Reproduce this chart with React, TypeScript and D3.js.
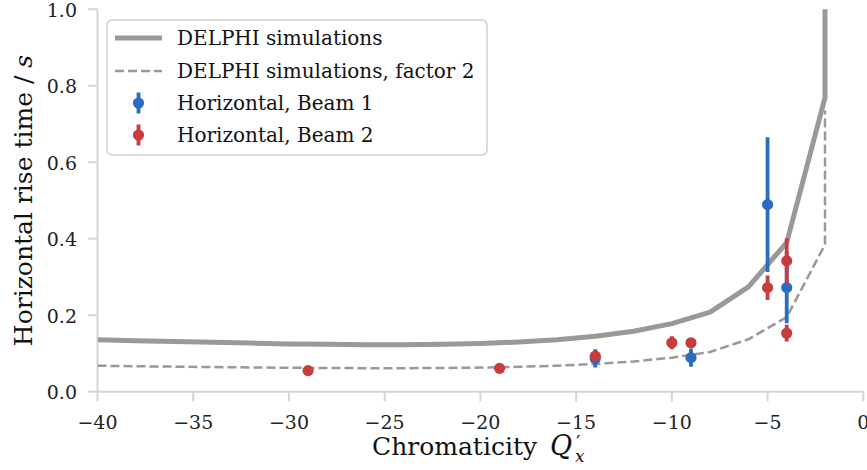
import React from "react";
import * as d3 from "d3";

const simX = [-40, -38, -36, -34, -32, -30, -28, -26, -24, -22, -20, -18, -16, -14, -12, -10, -8, -6, -4, -2, -2];
const simY = [0.136, 0.133, 0.131, 0.129, 0.127, 0.125, 0.124, 0.123, 0.123, 0.124, 0.126, 0.13, 0.136, 0.145, 0.158, 0.178, 0.208, 0.274, 0.39, 0.769, 1.47];
const simF2Y = [0.068, 0.0665, 0.0655, 0.0645, 0.0635, 0.0625, 0.062, 0.0615, 0.0615, 0.062, 0.063, 0.065, 0.068, 0.0725, 0.079, 0.089, 0.104, 0.137, 0.195, 0.3845, 0.735];

const beam1X = [-14, -9, -5, -4];
const beam1Y = [0.087, 0.089, 0.489, 0.272];
const beam1Err = [0.024, 0.024, 0.176, 0.093];

const beam2X = [-29, -19, -14, -10, -9, -5, -4, -4];
const beam2Y = [0.055, 0.061, 0.093, 0.128, 0.128, 0.272, 0.342, 0.153];
const beam2Err = [0.004, 0.004, 0.01, 0.017, 0.008, 0.032, 0.059, 0.022];

const xTicks = [-40, -35, -30, -25, -20, -15, -10, -5, 0];
const yTicks = [0, 0.2, 0.4, 0.6, 0.8, 1.0];

const legendLabels = [
  "DELPHI simulations",
  "DELPHI simulations, factor 2",
  "Horizontal, Beam 1",
  "Horizontal, Beam 2",
];

const GREY = "#999999";
const BLUE = "#2b6cc0";
const RED = "#c83c3c";
const SPINE = "#d3d7cf";
const FONT = "DejaVu Serif";

export default function App() {
  const W = 867;
  const H = 470;
  const x = d3.scaleLinear().domain([-40, 0]).range([97.5, 863.3]);
  const y = d3.scaleLinear().domain([0, 1]).range([391.7, 9.2]);

  const line = d3
    .line<number>()
    .x((_, i) => x(simX[i]))
    .y((d) => y(d));

  const fmtX = (v: number) => (v < 0 ? "\u2212" + Math.abs(v) : String(v));
  const fmtY = d3.format(".1f");

  const errPoints = (xs: number[], ys: number[], es: number[], color: string) =>
    xs.map((xv, i) => (
      <g key={i}>
        <line
          x1={x(xv)}
          x2={x(xv)}
          y1={y(ys[i] - es[i])}
          y2={y(ys[i] + es[i])}
          stroke={color}
          strokeWidth={3.8}
        />
        <circle cx={x(xv)} cy={y(ys[i])} r={5.6} fill={color} />
      </g>
    ));

  const legX = 107;
  const legRows = [38, 71, 103, 135];
  const tf = { fontFamily: FONT };

  return (
    <svg
      width={W}
      height={H}
      style={{ position: "absolute", left: 0, top: 0, background: "#fff", fontFamily: FONT }}
    >
      <defs>
        <clipPath id="plotclip">
          <rect x={97.5} y={9.2} width={766} height={383} />
        </clipPath>
      </defs>

      {/* spines */}
      <line x1={97.5} x2={97.5} y1={9.2} y2={391.7} stroke={SPINE} strokeWidth={2} />
      <line x1={97.5} x2={863.3} y1={391.7} y2={391.7} stroke={SPINE} strokeWidth={2} />

      {/* y ticks */}
      {yTicks.map((t) => (
        <g key={"y" + t}>
          <line x1={88} x2={97.5} y1={y(t)} y2={y(t)} stroke={SPINE} strokeWidth={2} />
          <text x={77} y={y(t) + 7.5} textAnchor="end" fontSize={19} fill="#222" style={tf}>
            {fmtY(t)}
          </text>
        </g>
      ))}

      {/* x ticks */}
      {xTicks.map((t) => (
        <g key={"x" + t}>
          <line x1={x(t)} x2={x(t)} y1={391.7} y2={401.5} stroke={SPINE} strokeWidth={2} />
          <text x={x(t)} y={429} textAnchor="middle" fontSize={19} fill="#222" style={tf}>
            {fmtX(t)}
          </text>
        </g>
      ))}

      {/* curves */}
      <g clipPath="url(#plotclip)">
        <path d={line(simY) || ""} fill="none" stroke={GREY} strokeWidth={5} strokeLinejoin="round" />
        <path d={line(simF2Y) || ""} fill="none" stroke={GREY} strokeWidth={2.5} strokeDasharray="9,4" />
        {errPoints(beam1X, beam1Y, beam1Err, BLUE)}
        {errPoints(beam2X, beam2Y, beam2Err, RED)}
      </g>

      {/* axis labels */}
      <text x={372} y={455} fontSize={25} fill="#111" style={tf}>
        Chromaticity
      </text>
      <text x={550} y={455} fontSize={27} fontStyle="italic" fill="#111" style={tf}>Q</text>
      <text x={576} y={450} fontSize={20} fill="#111" style={tf}>{"\u2032"}</text>
      <text x={575} y={462} fontSize={17} fontStyle="italic" fill="#111" style={tf}>x</text>
      <text
        transform={`translate(32, 200.5) rotate(-90)`}
        textAnchor="middle"
        fontSize={25}
        fill="#111"
        style={tf}
      >
        Horizontal rise time / <tspan fontStyle="italic">s</tspan>
      </text>

      {/* legend */}
      <rect x={legX} y={20} width={380} height={135} rx={5} fill="#fff" fillOpacity={0.85} stroke="#d0d0d0" strokeWidth={1.5} />
      <line x1={115} x2={162} y1={legRows[0]} y2={legRows[0]} stroke={GREY} strokeWidth={5} />
      <line x1={115} x2={162} y1={legRows[1]} y2={legRows[1]} stroke={GREY} strokeWidth={2.5} strokeDasharray="9,4" />
      {[BLUE, RED].map((c, i) => (
        <g key={c}>
          <line x1={138.5} x2={138.5} y1={legRows[2 + i] - 10.5} y2={legRows[2 + i] + 10.5} stroke={c} strokeWidth={3.8} />
          <circle cx={138.5} cy={legRows[2 + i]} r={5.6} fill={c} />
        </g>
      ))}
      {legendLabels.map((l, i) => (
        <text key={l} x={177} y={legRows[i] + 7} fontSize={20} fill="#111" style={tf}>
          {l}
        </text>
      ))}
    </svg>
  );
}
